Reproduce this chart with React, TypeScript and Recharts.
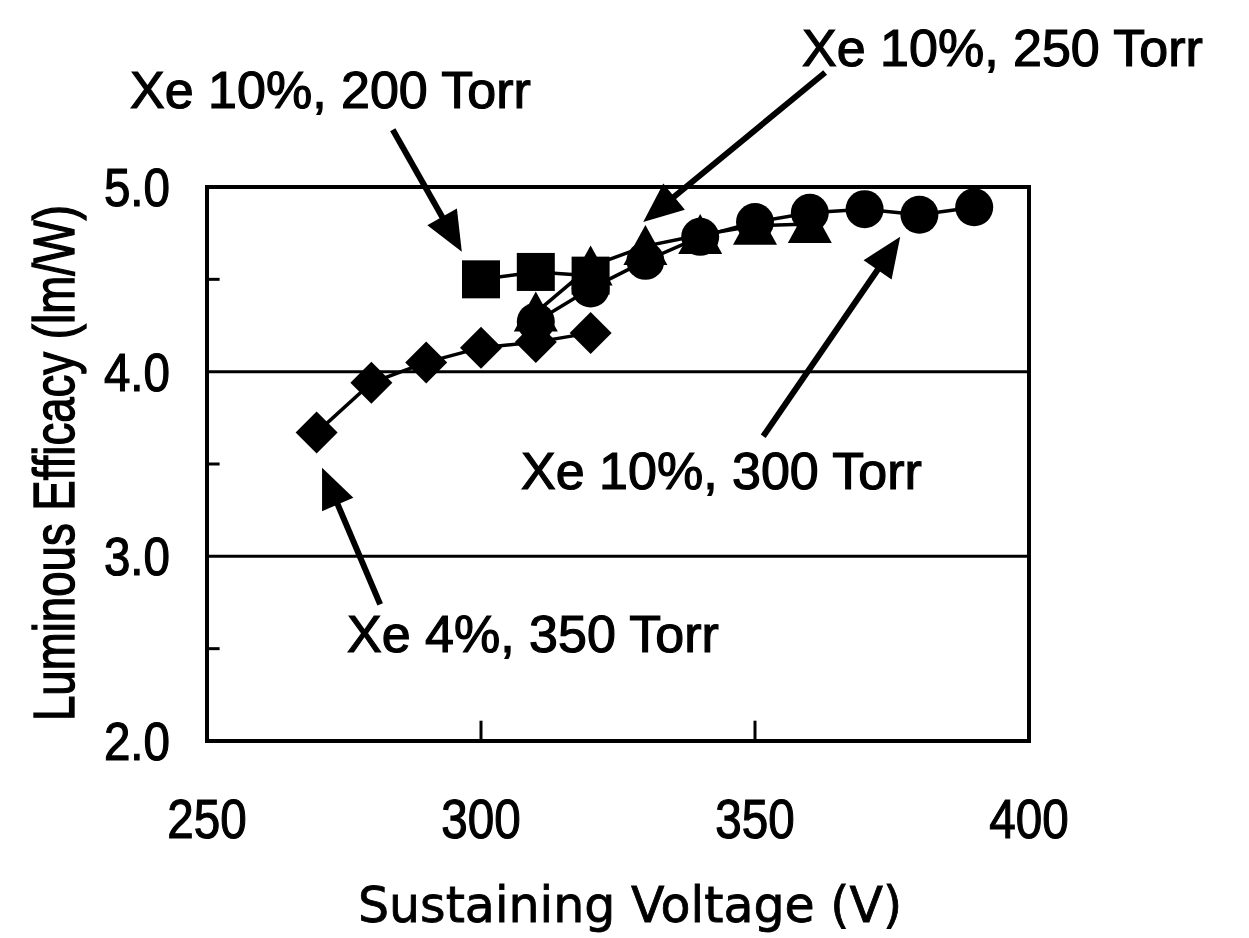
import React from "react";
import {
  ComposedChart,
  Scatter,
  XAxis,
  YAxis,
  ReferenceLine,
  ReferenceArea,
} from "recharts";

// Xe 4%, 350 Torr (diamonds)
const volt4_350 = [270, 280, 290, 300, 310, 320];
const eff4_350 = [3.67, 3.94, 4.05, 4.13, 4.16, 4.21];

// Xe 10%, 200 Torr (squares)
const volt10_200 = [300, 310, 320];
const eff10_200 = [4.5, 4.54, 4.52];

// Xe 10%, 250 Torr (triangles)
const volt10_250 = [310, 320, 330, 340, 350, 360];
const eff10_250 = [4.32, 4.57, 4.68, 4.74, 4.79, 4.8];

// Xe 10%, 300 Torr (circles)
const volt10_300 = [310, 320, 330, 340, 350, 360, 370, 380, 390];
const eff10_300 = [4.27, 4.45, 4.6, 4.73, 4.81, 4.86, 4.88, 4.85, 4.89];

const xTicks = [250, 300, 350, 400];
const yTicks = [2, 3, 4, 5];
const yMinorTicks = [2.5, 3.5, 4.5];
const xMinorTicks = [300, 350];
const gridValues = [3, 4];

// annotation arrows: [tailX, tailY, tipX, tipY] in data units
const arrows = [
  [283.9, 5.31, 296.5, 4.65],
  [362.8, 5.62, 329.6, 4.81],
  [351.5, 3.65, 376.5, 4.73],
  [281.6, 2.74, 271.0, 3.48],
];

const notes = [
  { text: "Xe 10%, 200 Torr", left: 130, top: 64 },
  { text: "Xe 10%, 250 Torr", left: 802, top: 22 },
  { text: "Xe 10%, 300 Torr", left: 521, top: 445 },
  { text: "Xe 4%, 350 Torr", left: 347, top: 608 },
];

const toPoints = (xs: number[], ys: number[]) =>
  xs.map((x, i) => ({ x, y: ys[i] }));

const FONT = "'Liberation Sans', Arial, Helvetica, sans-serif";

const Square = (p: any) => (
  <rect x={p.cx - 19} y={p.cy - 19} width={38} height={38} fill="#000" />
);
const Circle = (p: any) => <circle cx={p.cx} cy={p.cy} r={19} fill="#000" />;
const Triangle = (p: any) => (
  <polygon
    points={`${p.cx},${p.cy - 21} ${p.cx + 22},${p.cy + 19} ${p.cx - 22},${p.cy + 19}`}
    fill="#000"
  />
);
const Diamond = (p: any) => (
  <polygon
    points={`${p.cx},${p.cy - 21} ${p.cx + 21},${p.cy} ${p.cx},${p.cy + 21} ${p.cx - 21},${p.cy}`}
    fill="#000"
  />
);

const Arrow = (p: any) => {
  const { x1, y1, x2, y2 } = p;
  const dx = x2 - x1;
  const dy = y2 - y1;
  const len = Math.sqrt(dx * dx + dy * dy);
  const ux = dx / len;
  const uy = dy / len;
  const headLen = 40;
  const headW = 17;
  const bx = x2 - ux * headLen;
  const by = y2 - uy * headLen;
  return (
    <g>
      <line x1={x1} y1={y1} x2={bx + ux * 2} y2={by + uy * 2} stroke="#000" strokeWidth={6} />
      <polygon
        points={`${x2},${y2} ${bx - uy * headW},${by + ux * headW} ${bx + uy * headW},${by - ux * headW}`}
        fill="#000"
      />
    </g>
  );
};

const XTick = (p: any) => (
  <g transform={`translate(${p.x},${p.y})`}>
    <text
      transform="scale(0.85,1)"
      textAnchor="middle"
      y={97}
      fontSize={56}
      fontFamily={FONT}
      fill="#000"
      stroke="#000"
      strokeWidth={1.2}
    >
      {p.payload.value}
    </text>
  </g>
);

const YTick = (p: any) => (
  <g transform={`translate(${p.x - 37},${p.y})`}>
    <text
      transform="scale(0.88,1)"
      textAnchor="end"
      y={19}
      fontSize={54}
      fontFamily={FONT}
      fill="#000"
      stroke="#000"
      strokeWidth={1.2}
    >
      {Number(p.payload.value).toFixed(1)}
    </text>
  </g>
);

const line = { stroke: "#000", strokeWidth: 3.5 };

export default function App() {
  return (
    <div
      style={{
        position: "absolute",
        left: 0,
        top: 0,
        width: 1249,
        height: 938,
        overflow: "hidden",
        background: "#fff",
        fontFamily: FONT,
      }}
    >
      <ComposedChart
        width={1249}
        height={938}
        margin={{ top: 187, right: 220, bottom: 97, left: 107 }}
      >
        <XAxis
          type="number"
          dataKey="x"
          domain={[250, 400]}
          ticks={xTicks}
          axisLine={false}
          tickLine={false}
          tickSize={0}
          tickMargin={0}
          height={100}
          tick={<XTick />}
          allowDataOverflow
        />
        <YAxis
          type="number"
          dataKey="y"
          domain={[2, 5]}
          ticks={yTicks}
          axisLine={false}
          tickLine={false}
          tickSize={0}
          tickMargin={0}
          width={100}
          tick={<YTick />}
          allowDataOverflow
        />
        {gridValues.map((v) => (
          <ReferenceLine key={`g${v}`} y={v} stroke="#000" strokeWidth={3} />
        ))}
        {yMinorTicks.map((v) => (
          <ReferenceLine
            key={`ym${v}`}
            segment={[
              { x: 250, y: v },
              { x: 252.3, y: v },
            ]}
            stroke="#000"
            strokeWidth={3}
          />
        ))}
        {xMinorTicks.map((v) => (
          <ReferenceLine
            key={`xm${v}`}
            segment={[
              { x: v, y: 2 },
              { x: v, y: 2.11 },
            ]}
            stroke="#000"
            strokeWidth={3}
          />
        ))}
        <ReferenceArea
          x1={250}
          x2={400}
          y1={2}
          y2={5}
          fill="none"
          fillOpacity={0}
          stroke="#000"
          strokeWidth={4}
        />
        <Scatter
          data={toPoints(volt4_350, eff4_350)}
          line={line}
          shape={Diamond}
          isAnimationActive={false}
        />
        <Scatter
          data={toPoints(volt10_200, eff10_200)}
          line={line}
          shape={Square}
          isAnimationActive={false}
        />
        <Scatter
          data={toPoints(volt10_300, eff10_300)}
          line={line}
          shape={Circle}
          isAnimationActive={false}
        />
        <Scatter
          data={toPoints(volt10_250, eff10_250)}
          line={line}
          shape={Triangle}
          isAnimationActive={false}
        />
        {arrows.map((a, i) => (
          <ReferenceLine
            key={`a${i}`}
            segment={[
              { x: a[0], y: a[1] },
              { x: a[2], y: a[3] },
            ]}
            ifOverflow="visible"
            shape={Arrow}
          />
        ))}
      </ComposedChart>
      {notes.map((n) => (
        <div
          key={n.text}
          style={{
            position: "absolute",
            left: n.left,
            top: n.top,
            fontSize: 52,
            lineHeight: "52px",
            whiteSpace: "nowrap",
            color: "#000",
            WebkitTextStroke: "1.2px #000",
          }}
        >
          {n.text}
        </div>
      ))}
      <div
        style={{
          position: "absolute",
          left: 54,
          top: 463,
          fontSize: 57,
          lineHeight: "57px",
          whiteSpace: "nowrap",
          transform: "translate(-50%, -50%) rotate(-90deg) scale(0.8, 1)",
          color: "#000",
          WebkitTextStroke: "1.4px #000",
        }}
      >
        Luminous Efficacy (lm/W)
      </div>
      <div
        style={{
          position: "absolute",
          left: 630,
          top: 881,
          fontSize: 49,
          lineHeight: "49px",
          whiteSpace: "nowrap",
          transform: "translateX(-50%)",
          fontFamily: "'DejaVu Sans', 'Noto Sans', sans-serif",
          color: "#000",
          WebkitTextStroke: "0.8px #000",
        }}
      >
        Sustaining Voltage (V)
      </div>
    </div>
  );
}
